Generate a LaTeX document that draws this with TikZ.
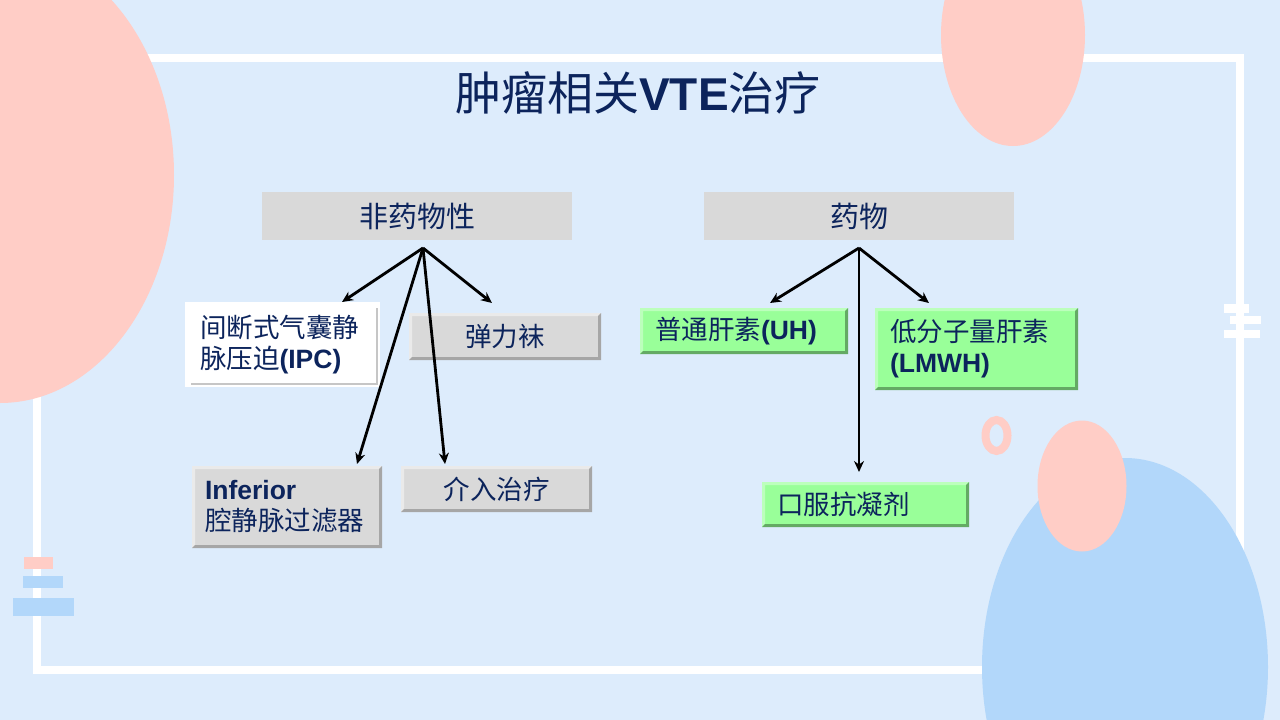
\documentclass[tikz,border=0pt]{standalone}
\usepackage{fontspec}
\setmainfont{Liberation Sans}
\newfontfamily\cjk{Noto Sans CJK SC}
\usetikzlibrary{arrows.meta,calc}
\definecolor{bgblue}{RGB}{221,236,252}
\definecolor{pinkc}{RGB}{255,205,198}
\definecolor{blueb}{RGB}{178,215,250}
\definecolor{navy}{RGB}{12,36,92}
\definecolor{grayface}{RGB}{217,217,217}
\definecolor{graylight}{RGB}{234,234,234}
\definecolor{graydark}{RGB}{166,166,166}
\definecolor{greenface}{RGB}{153,255,153}
\definecolor{greenlight}{RGB}{188,255,188}
\definecolor{greendark}{RGB}{100,170,100}
\newcommand\lb[1]{{\normalfont\bfseries #1}}
\newcommand\bevbox[3]{%
 \fill[#2] (#1.north west) -- (#1.north east) -- ([xshift=-3pt,yshift=-3pt]#1.north east) -- ([xshift=3pt,yshift=-3pt]#1.north west) -- ([xshift=3pt,yshift=3pt]#1.south west) -- (#1.south west) -- cycle;
 \fill[#3] (#1.north east) -- (#1.south east) -- (#1.south west) -- ([xshift=3pt,yshift=3pt]#1.south west) -- ([xshift=-3pt,yshift=3pt]#1.south east) -- ([xshift=-3pt,yshift=-3pt]#1.north east) -- cycle;
}
\tikzset{
 box/.style={anchor=north west, inner sep=0pt, outer sep=0pt, text=navy,
   font=\fontsize{26.5}{31}\selectfont\cjk},
 cbox/.style={box, align=center},
 lbox/.style={box, align=left, inner xsep=15pt},
 head/.style={box, fill=grayface, minimum width=310pt, minimum height=48pt,
   font=\fontsize{29}{34}\selectfont\cjk},
 graybox/.style={fill=grayface},
 greenbox/.style={fill=greenface},
 arr/.style={line width=2.8pt, -{Stealth[length=11pt,width=10pt]}},
}
\begin{document}
\begin{tikzpicture}[x=1pt,y=-1pt]
\useasboundingbox (0,0) rectangle (1280,720);
\fill[bgblue] (0,0) rectangle (1280,720);
% frame
\draw[white, line width=8pt] (37,58) rectangle (1240,670);
% decorations
\fill[pinkc] (0,175) ellipse [x radius=174, y radius=228];
\fill[pinkc] (1013,35) ellipse [x radius=72, y radius=111];
\fill[blueb] (1125,667) ellipse [x radius=143, y radius=209];
\fill[pinkc] (1082,486) ellipse [x radius=44.5, y radius=65.5];
\draw[pinkc, line width=8pt] (996.5,435.5) ellipse [x radius=11, y radius=15.5];
\fill[white] (1224,304) rectangle (1249,313);
\fill[white] (1230,316) rectangle (1261,324);
\fill[white] (1224,330) rectangle (1260,338);
\fill[pinkc] (24,557) rectangle (53,569);
\fill[blueb] (23,576) rectangle (63,588);
\fill[blueb] (13,598) rectangle (74,616);
% title
\node[text=navy, font=\fontsize{46}{50}\selectfont] (title) at (638,93)
  {{\cjk 肿瘤相关}\lb{VTE}{\cjk 治疗}};
% heads
\node[head] (h1) at (262,192) {非药物性};
\node[head] (h2) at (704,192) {药物};
% non-drug boxes
\node[lbox, fill=white, text width=165pt, minimum height=85pt] (ipc) at (185,302)
  {间断式气囊静\\脉压迫\lb{(IPC)}};
\draw[gray!45, line width=1.5pt] ([xshift=-3pt,yshift=-6pt]ipc.north east) -- ([xshift=-3pt,yshift=3pt]ipc.south east) -- ([xshift=6pt,yshift=3pt]ipc.south west);
\node[cbox, graybox, minimum width=192pt, minimum height=47pt] (socks) at (409,313) {弹力袜};
\bevbox{socks}{graylight}{graydark}
\node[lbox, graybox, inner xsep=13pt, text width=164pt, minimum height=82pt] (ivc) at (192,466)
  {\lb{Inferior}\\腔静脉过滤器};
\bevbox{ivc}{graylight}{graydark}
\node[cbox, graybox, minimum width=191pt, minimum height=46pt] (interv) at (401,466) {介入治疗};
\bevbox{interv}{graylight}{graydark}
% drug boxes
\node[lbox, greenbox, text width=178pt, minimum height=46pt] (uh) at (640,308)
  {普通肝素\lb{(UH)}};
\bevbox{uh}{greenlight}{greendark}
\node[lbox, greenbox, text width=173pt, minimum height=82pt] (lmwh) at (875,308)
  {低分子量肝素\\\lb{(LMWH)}};
\bevbox{lmwh}{greenlight}{greendark}
\node[lbox, greenbox, text width=177pt, minimum height=45pt] (oral) at (762,482)
  {口服抗凝剂};
\bevbox{oral}{greenlight}{greendark}
% connectors
\coordinate (a1) at (423,248);
\coordinate (a2) at (859,248);
\coordinate (t1) at ($(ipc.north west)+(157,0)$);
\coordinate (t2) at ($(socks.north west)+(83,-10)$);
\coordinate (t3) at ($(ivc.north west)+(165,-2)$);
\coordinate (t4) at ($(interv.north west)+(44,-2)$);
\coordinate (u1) at ($(uh.north west)+(130,-5)$);
\coordinate (u2) at ($(lmwh.north west)+(54,-5)$);
\coordinate (u3) at ($(oral.north west)+(97,-10)$);
\draw[arr] (a1) -- (t1);
\draw[arr] (a1) -- (t2);
\draw[arr] (a1) -- (t3);
\draw[arr] (a1) -- (t4);
\draw[arr] (a2) -- (u1);
\draw[arr] (a2) -- (u2);
\draw[arr] (a2) -- (u3);
\end{tikzpicture}
\end{document}
